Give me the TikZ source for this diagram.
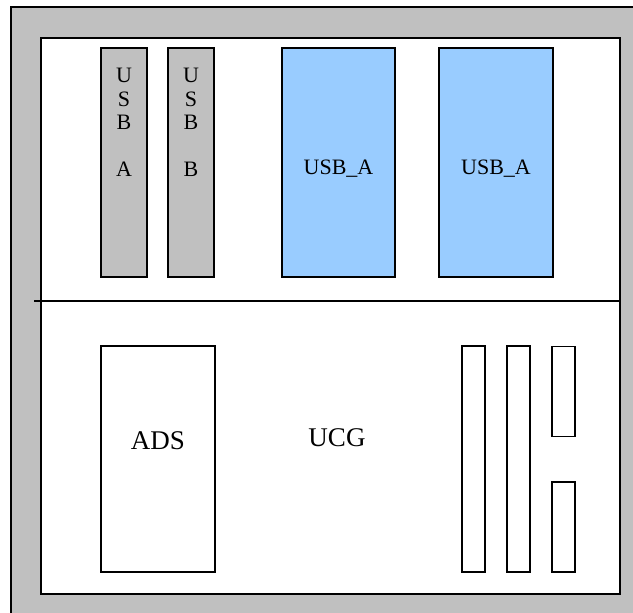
\documentclass[tikz,border=0pt]{standalone}
\usepackage{fontspec}
\setmainfont{Liberation Serif}
\usetikzlibrary{positioning}
\definecolor{panelgray}{HTML}{C0C0C0}
\definecolor{portblue}{HTML}{99CCFF}

\begin{document}
\begin{tikzpicture}[x=0.5pt,y=-0.5pt,
  every node/.style={inner sep=0pt},
  board/.style={draw=black,line width=0.8pt},
  grayport/.style={board,fill=panelgray,minimum width=23pt,minimum height=114.5pt},
  blueport/.style={board,fill=portblue,minimum height=114.5pt},
  slot/.style={board,fill=white,minimum width=11.5pt},
  small/.style={font=\fontsize{11}{11.75}\selectfont,align=center},
  big/.style={font=\fontsize{13.5}{15}\selectfont}]
  \useasboundingbox (0,0) rectangle (633,613);
  % case and board
  \draw[board,fill=panelgray] (11,7) rectangle (645,625);
  \draw[board,fill=white] (41,38) rectangle (620,594);
  \coordinate (divL) at (34,301);
  \coordinate (divR) at (620,301);
  \draw[board] (divL) -- (divR);

  % upper half: usb ports
  \node[grayport] (usbA) at (124,162.5) {};
  \node[grayport] (usbB) at (191,162.5) {};
  \node[small,anchor=north] (usbAtxt) at (124,68) {U\\S\\B\\[11.75pt]A};
  \node[small,anchor=north] (usbBtxt) at (191,68) {U\\S\\B\\[11.75pt]B};
  \node[blueport,minimum width=56.5pt] (blueA) at (338.5,162.5) {};
  \node[blueport,minimum width=57pt] (blueB) at (496,162.5) {};
  \node[small] (blueAtxt) at (338.5,169) {USB\_A};
  \node[small] (blueBtxt) at (496,169) {USB\_A};

  % lower half
  \node[board,fill=white,minimum width=57pt,minimum height=113pt] (ads) at (158,459) {};
  \node[big] (adstxt) at (158,441) {ADS};
  \node[big] (ucg) at (337,438) {UCG};
  \node[slot,minimum height=113pt] (slot1) at (473.5,459) {};
  \node[slot,minimum height=113pt] (slot2) at (518.5,459) {};
  \node[slot,minimum height=45pt] (slot3) at (563.5,391.5) {};
  \node[slot,minimum height=45pt] (slot4) at (563.5,527) {};
\end{tikzpicture}
\end{document}
